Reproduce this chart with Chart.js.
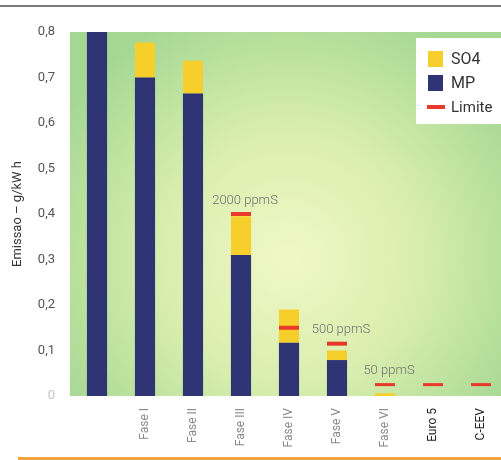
<!DOCTYPE html>
<html>
<head>
<meta charset="utf-8">
<script src="https://cdn.jsdelivr.net/npm/chart.js@4/dist/chart.umd.min.js"></script>
<style>
  html, body { margin: 0; padding: 0; background: #ffffff; overflow: hidden; }
  #wrap { position: relative; width: 505px; height: 460px; }
</style>
</head>
<body>
<div id="wrap"><canvas id="chart"></canvas></div>
<script>
// Emissions per engine standard (g/kWh)
const categories = ['', 'Fase I', 'Fase II', 'Fase III', 'Fase IV', 'Fase V', 'Fase VI', 'Euro 5', 'C-EEV'];
const mpValues   = [0.80, 0.70, 0.665, 0.31, 0.117, 0.079, 0.0, null, null];
const so4Values  = [0.0, 0.077, 0.072, 0.085, 0.073, 0.021, 0.006, null, null];
const limitValues = [null, null, null, 0.40, 0.15, 0.115, 0.025, 0.025, 0.025];
const sulfurLabels = ['', '', '', '2000 ppmS', '', '500 ppmS', '50 ppmS', '', ''];
const yTicks = [0, 0.1, 0.2, 0.3, 0.4, 0.5, 0.6, 0.7, 0.8];

const FONT = "'Roboto', 'DejaVu Sans Condensed', sans-serif";
const NAVY = '#2f3474';
const YELLOW = '#f7cf2c';
const RED = '#e8392b';

// Soft green panel behind the plot
const panelBackground = {
  id: 'panelBackground',
  beforeDraw(chart) {
    const { ctx, chartArea: a } = chart;
    const cx = a.left + (a.right - a.left) * 0.5;
    const cy = a.top + (a.bottom - a.top) * 0.62;
    const g = ctx.createRadialGradient(cx, cy, 10, cx, cy, 270);
    g.addColorStop(0, '#eff7c4');
    g.addColorStop(0.45, '#d9eeae');
    g.addColorStop(1, '#a3d792');
    ctx.save();
    ctx.fillStyle = g;
    ctx.fillRect(a.left - 3, a.top, a.right - a.left + 3, a.bottom - a.top);
    // top rule and bottom stripe of the page
    ctx.fillStyle = '#7a7a7a';
    ctx.fillRect(0, 5, chart.width, 2);
    ctx.fillStyle = '#f3a33c';
    ctx.fillRect(18, 457, chart.width, 3);
    ctx.restore();
  }
};

// Sulfur content captions above the limit marks
const sulfurCaptions = {
  id: 'sulfurCaptions',
  afterDatasetsDraw(chart) {
    const { ctx } = chart;
    const meta = chart.getDatasetMeta(2);
    ctx.save();
    ctx.font = '300 13px ' + FONT;
    ctx.fillStyle = '#707070';
    ctx.textAlign = 'center';
    ctx.textBaseline = 'bottom';
    sulfurLabels.forEach((t, i) => {
      if (!t) return;
      const p = meta.data[i];
      ctx.fillText(t, p.x + 4, p.y - 7);
    });
    ctx.restore();
  }
};

// Boxed legend inside the top-right corner of the plot
const boxLegend = {
  id: 'boxLegend',
  afterDraw(chart) {
    const { ctx, chartArea: a } = chart;
    const ds = chart.data.datasets;
    const order = [1, 0, 2];
    const x0 = a.right - 89, y0 = a.top + 6;
    ctx.save();
    ctx.fillStyle = '#ffffff';
    ctx.fillRect(x0, y0, 89, 86);
    ctx.textBaseline = 'middle';
    ctx.textAlign = 'left';
    order.forEach((k, j) => {
      const d = ds[k];
      const yc = y0 + 21 + j * 24;
      if (d.type === 'line') {
        ctx.fillStyle = d.borderColor;
        ctx.fillRect(x0 + 11, yc - 2, 18, 4);
        ctx.font = '15px ' + FONT;
      } else {
        ctx.fillStyle = d.backgroundColor;
        ctx.fillRect(x0 + 12, yc - 8, 15, 16);
        ctx.font = '16px ' + FONT;
      }
      ctx.fillStyle = '#333';
      ctx.fillText(d.label, x0 + 35, yc + 1);
    });
    ctx.restore();
  }
};

new Chart(document.getElementById('chart'), {
  data: {
    labels: categories,
    datasets: [
      { type: 'bar', label: 'MP', data: mpValues, backgroundColor: NAVY, stack: 's', order: 1,
        barPercentage: 0.42, categoryPercentage: 1.0 },
      { type: 'bar', label: 'SO4', data: so4Values, backgroundColor: YELLOW, stack: 's', order: 1,
        barPercentage: 0.42, categoryPercentage: 1.0 },
      { type: 'line', label: 'Limite', data: limitValues, showLine: false, order: 0,
        borderColor: RED, backgroundColor: RED, pointStyle: 'line',
        pointRadius: 10, pointHoverRadius: 10,
        pointBorderWidth: (c) => (c.dataIndex >= 6 ? 3 : 4), borderWidth: 4 }
    ]
  },
  options: {
    responsive: true,
    maintainAspectRatio: false,
    animation: false,
    events: [],
    layout: { autoPadding: false, padding: { top: 32, left: 10, right: 0, bottom: 0 } },
    plugins: { legend: { display: false }, tooltip: { enabled: false } },
    scales: {
      x: {
        stacked: true,
        grid: { display: false },
        border: { display: false },
        ticks: {
          autoSkip: false,
          minRotation: 90, maxRotation: 90,
          padding: 4,
          font: { family: FONT, size: 12 },
          color: (c) => (c.index >= 7 ? '#222' : '#8a8a8a')
        },
        afterFit(scale) {
          scale.height = 64;
          scale.paddingLeft = 0;
          scale.paddingRight = 0;
        }
      },
      y: {
        stacked: true,
        min: 0, max: 0.8,
        afterBuildTicks(scale) { scale.ticks = yTicks.map(v => ({ value: v })); },
        grid: { display: false },
        border: { display: false },
        ticks: {
          padding: 10,
          font: { family: FONT, size: 13 },
          color: (c) => (c.tick.value === 0 ? '#c4c4c4' : '#555'),
          callback: (v) => (v === 0 ? '0' : v.toFixed(1).replace('.', ','))
        },
        title: {
          display: true,
          text: 'Emissao – g/kW h',
          color: '#333',
          font: { family: FONT, size: 13 },
          padding: { top: 0, bottom: 2 }
        },
        afterFit(scale) { scale.width = 63; }
      }
    }
  },
  plugins: [panelBackground, sulfurCaptions, boxLegend]
});
</script>
</body>
</html>
